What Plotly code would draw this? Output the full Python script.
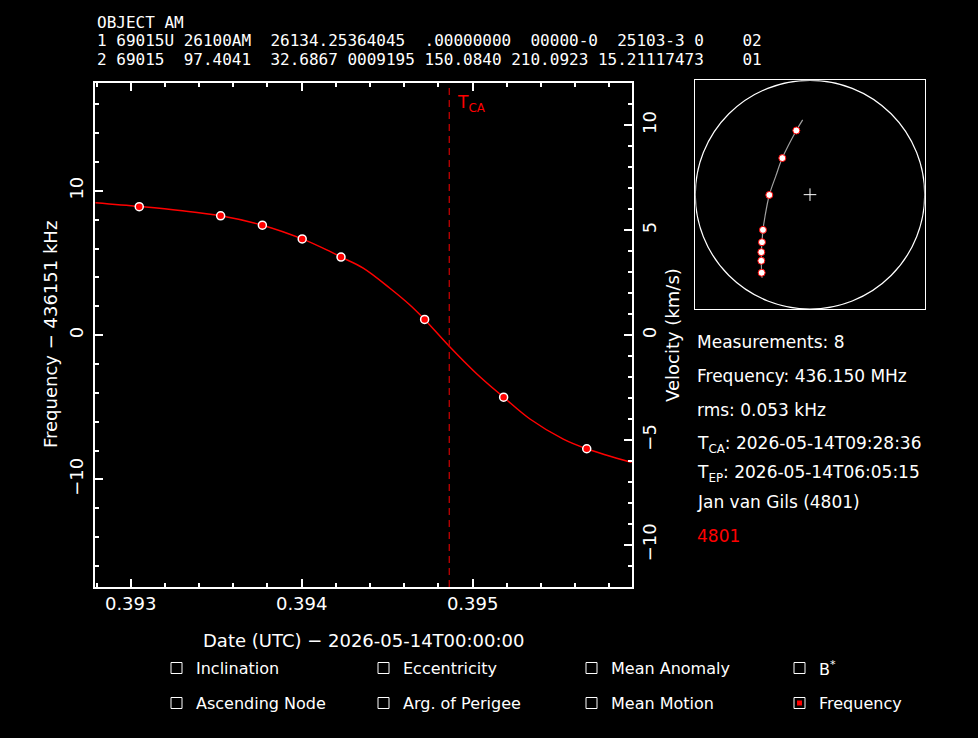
import plotly.graph_objects as go

# ==========================================
# 1. DATA
# ==========================================
W, H = 978, 738

header_lines = [
    "OBJECT AM",
    "1 69015U 26100AM  26134.25364045  .00000000  00000-0  25103-3 0    02",
    "2 69015  97.4041  32.6867 0009195 150.0840 210.0923 15.21117473    01",
]

# measured doppler points (fraction of day since 2026-05-14T00:00:00, kHz offset)
obs_t = [0.393050, 0.393526, 0.393770, 0.394003, 0.394230, 0.394719, 0.395181, 0.395667]
obs_df = [8.90, 8.27, 7.62, 6.67, 5.41, 1.09, -4.30, -7.87]

# fitted curve
fit_t = [0.392793, 0.393050, 0.393288, 0.393526, 0.393770, 0.394003, 0.394165, 0.394230,
         0.394360, 0.394516, 0.394633, 0.394719, 0.394863, 0.395023, 0.395181, 0.395335,
         0.395530, 0.395667, 0.395930]
fit_df = [9.18, 8.92, 8.64, 8.27, 7.62, 6.67, 5.80, 5.41,
          4.65, 3.25, 2.09, 1.09, -0.77, -2.67, -4.30, -5.81,
          -7.20, -7.87, -8.82]

tca_t = 0.394863

x_range = [0.392793, 0.39593]
freq_range = [-17.45, 17.45]
vel_range = [-12, 12]

# sky track (normalised horizon circle coordinates)
sky_x = [-0.4215, -0.4244, -0.4244, -0.4186, -0.4099, -0.3547, -0.2413, -0.1192]
sky_y = [-0.6831, -0.5785, -0.5029, -0.4157, -0.3081, -0.0029, 0.3198, 0.5610]
track_x = [-0.418, -0.4215, -0.4244, -0.4244, -0.4186, -0.4099, -0.392, -0.3547, -0.299, -0.2413, -0.1192, -0.064]
track_y = [-0.727, -0.6831, -0.5785, -0.5029, -0.4157, -0.3081, -0.189, -0.0029, 0.160, 0.3198, 0.5610, 0.654]

info_lines = [
    "Measurements: 8",
    "Frequency: 436.150 MHz",
    "rms: 0.053 kHz",
    "T<sub>CA</sub>: 2026-05-14T09:28:36",
    "T<sub>EP</sub>: 2026-05-14T06:05:15",
    "Jan van Gils (4801)",
]
station_id = "4801"

check_labels = [["Inclination", "Eccentricity", "Mean Anomaly", "B<sup>*</sup>"],
                ["Ascending Node", "Arg. of Perigee", "Mean Motion", "Frequency"]]
check_state = [[False, False, False, False],
               [False, False, False, True]]

# ==========================================
# 2. HELPERS
# ==========================================
FONT = "DejaVu Sans"
MONO = "DejaVu Sans Mono"


def px(x, y):
    return x / W, 1 - y / H


def label(x, y, text, size=15, color="white", xanchor="left", angle=0, family=FONT):
    xp, yp = px(x, y)
    return dict(x=xp, y=yp, xref="paper", yref="paper", text=text, showarrow=False,
                xanchor=xanchor, yanchor="middle", textangle=angle,
                font=dict(family=family, size=size, color=color))


main_x = [95.3 / W, 631.7 / W]
main_y = [1 - 587 / H, 1 - 83.3 / H]
sky_dx = [695.3 / W, 924.7 / W]
sky_dy = [1 - 309 / H, 1 - 80.3 / H]

# ==========================================
# 3. TRACES
# ==========================================
fig = go.Figure()

fig.add_trace(go.Scatter(x=fit_t, y=fit_df, mode="lines", line=dict(color="#ff0000", width=1.5, shape="spline"),
                         xaxis="x", yaxis="y", hoverinfo="skip"))
fig.add_trace(go.Scatter(x=obs_t, y=obs_df, mode="markers",
                         marker=dict(size=8, color="#ff0000", line=dict(color="white", width=1.5)),
                         xaxis="x", yaxis="y"))
# invisible trace just to activate the velocity axis
fig.add_trace(go.Scatter(x=[tca_t], y=[0], mode="markers", marker=dict(opacity=0),
                         xaxis="x", yaxis="y2", hoverinfo="skip"))

fig.add_trace(go.Scatter(x=track_x, y=track_y, mode="lines", line=dict(color="#a0a0a0", width=1.2, shape="spline"),
                         xaxis="x3", yaxis="y3", hoverinfo="skip"))
fig.add_trace(go.Scatter(x=sky_x, y=sky_y, mode="markers",
                         marker=dict(size=7, color="white", line=dict(color="#ff0000", width=1)),
                         xaxis="x3", yaxis="y3"))
fig.add_trace(go.Scatter(x=[0], y=[0], mode="markers",
                         marker=dict(symbol="cross-thin", size=9, line=dict(color="white", width=1)),
                         xaxis="x3", yaxis="y3", hoverinfo="skip"))

# ==========================================
# 4. SHAPES & TEXT
# ==========================================
shapes = [
    dict(type="line", xref="x", yref="y domain", x0=tca_t, x1=tca_t, y0=0, y1=1,
         line=dict(color="#d00000", width=1.2, dash="7px,5px")),
    dict(type="circle", xref="x3", yref="y3", x0=-1, x1=1, y0=-1, y1=1,
         line=dict(color="white", width=1.2)),
]

annotations = []
for i, line in enumerate(header_lines):
    annotations.append(label(95, 22 + 18.6 * i, line.replace(" ", "\u00a0"), size=16, family=MONO))

annotations.append(dict(x=tca_t, y=1 - 104 / H, xref="x", yref="paper", text="T<sub>CA</sub>",
                        showarrow=False, xanchor="left", yanchor="middle", xshift=6,
                        font=dict(family=FONT, size=17, color="#ff0000")))

info_y = [342, 376, 410, 444, 473, 502]
for yy, line in zip(info_y, info_lines):
    annotations.append(label(695, yy, line, size=17))
annotations.append(label(695, 536, station_id, size=17, color="#ff0000"))

annotations.append(label(363, 640, "Date (UTC) \u2212 2026-05-14T00:00:00", size=18, xanchor="center"))
annotations.append(label(50, 335, "Frequency \u2212 436151 kHz", size=18, xanchor="center", angle=-90))
annotations.append(label(672, 335, "Velocity (km/s)", size=18, xanchor="center", angle=-90))

box_x = [171, 378, 586, 794]
box_y = [668, 703]
for r, row in enumerate(check_labels):
    for c, text in enumerate(row):
        x0, y0 = box_x[c], box_y[r]
        a, b = px(x0, y0 - 5.5)
        a2, b2 = px(x0 + 11, y0 + 5.5)
        shapes.append(dict(type="rect", xref="paper", yref="paper", x0=a, x1=a2, y0=b2, y1=b,
                           line=dict(color="white", width=1)))
        if check_state[r][c]:
            a, b = px(x0 + 3, y0 - 2.5)
            a2, b2 = px(x0 + 8, y0 + 2.5)
            shapes.append(dict(type="rect", xref="paper", yref="paper", x0=a, x1=a2, y0=b2, y1=b,
                               fillcolor="#ff0000", line=dict(width=0)))
        annotations.append(label(x0 + 23, y0, text, size=16))

# ==========================================
# 5. LAYOUT
# ==========================================
axis_common = dict(showgrid=False, zeroline=False, showline=True, linecolor="white", linewidth=1.5,
                   ticks="inside", tickcolor="white", tickwidth=1.5, ticklen=8,
                   tickfont=dict(family=FONT, size=18, color="white"))

fig.update_layout(
    width=W, height=H,
    paper_bgcolor="black", plot_bgcolor="black",
    margin=dict(l=0, r=0, t=0, b=0),
    showlegend=False,
    font=dict(family=FONT, color="white"),
    xaxis=dict(axis_common, domain=main_x, range=x_range, anchor="y", mirror="ticks",
               tick0=0.393, dtick=0.001, ticklabelstandoff=0,
               minor=dict(dtick=0.0002, ticks="inside", ticklen=4, tickcolor="white", tickwidth=1.5)),
    yaxis=dict(axis_common, domain=main_y, range=freq_range, anchor="x", tickangle=-90,
               tick0=0, dtick=10, ticklabelstandoff=3, mirror=True,
               minor=dict(dtick=2, ticks="inside", ticklen=4, tickcolor="white", tickwidth=1.5)),
    yaxis2=dict(axis_common, range=vel_range, overlaying="y", side="right", anchor="x",
                tickangle=-90, tick0=0, dtick=5, ticklabelstandoff=1,
                minor=dict(dtick=1, ticks="inside", ticklen=4, tickcolor="white", tickwidth=1.5)),
    xaxis3=dict(domain=sky_dx, range=[-1, 1], anchor="y3", showgrid=False, zeroline=False,
                showticklabels=False, showline=True, mirror=True, linecolor="white", linewidth=1.2),
    yaxis3=dict(domain=sky_dy, range=[-1, 1], anchor="x3", showgrid=False, zeroline=False,
                showticklabels=False, showline=True, mirror=True, linecolor="white", linewidth=1.2),
    shapes=shapes,
    annotations=annotations,
)

fig.write_html("out.html", config={"displayModeBar": False},
               post_script="document.body.style.margin='0';document.body.style.padding='0';")
